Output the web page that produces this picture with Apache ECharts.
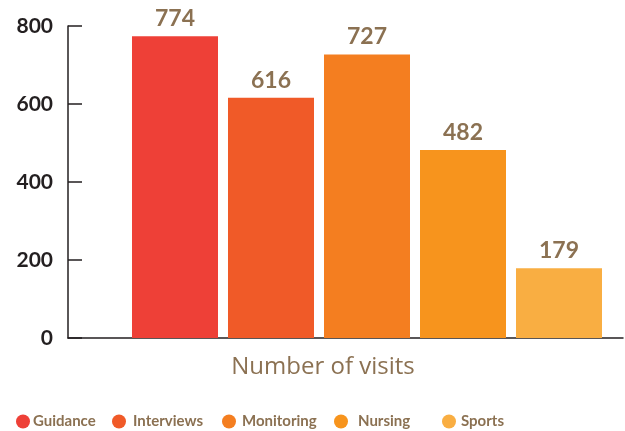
<!DOCTYPE html>
<html><head><meta charset="utf-8">
<script src="https://cdn.jsdelivr.net/npm/echarts@6/dist/echarts.min.js"></script>
<style>html,body{margin:0;padding:0;background:#fff}#c{width:625px;height:431px}</style>
</head><body><div id="c"></div>
<script>
const categories = ['Number of visits'];
const seriesNames = ['Guidance', 'Interviews', 'Monitoring', 'Nursing', 'Sports'];
const seriesValues = [774, 616, 727, 482, 179];
const colors = ['#EE4037', '#F05A28', '#F47E20', '#F7941D', '#F9AE42'];
const yTicks = [0, 200, 400, 600, 800];
const legendLeft = [16, 112, 222, 334, 442];
const legendTextGap = [3, 7, 6, 10, 5];

const brown = '#8B7152';
const font = 'Lato';
const chart = echarts.init(document.getElementById('c'));
chart.setOption({
  animation: false,
  textStyle: { fontFamily: font },
  grid: [
    { left: 127, right: 18, top: 26, height: 312 },
    { left: 68, right: 2, top: 26, height: 312 }
  ],
  legend: seriesNames.map((n, i) => ({
    data: [n], left: legendLeft[i], top: 414, icon: 'circle', itemWidth: 14, itemHeight: 14,
    itemGap: 0, selectedMode: false, padding: 0,
    textStyle: { color: brown, fontSize: 15, fontWeight: 'bold', fontFamily: font, padding: [0, 0, 0, legendTextGap[i] - 5] }
  })),
  xAxis: [
    { type: 'category', gridIndex: 0, data: categories, show: false },
    {
      type: 'category', gridIndex: 1, data: categories,
      axisLine: { lineStyle: { color: '#231F20', width: 1.5 } },
      axisTick: { show: false }, axisLabel: { show: false },
      name: categories[0], nameLocation: 'middle', nameGap: 17,
      nameTextStyle: { color: brown, fontSize: 24, fontFamily: 'Open Sans', padding: [0, 45, 0, 0] }
    }
  ],
  yAxis: [
    { type: 'value', gridIndex: 0, min: yTicks[0], max: yTicks[yTicks.length - 1], interval: 200, show: false, splitLine: { show: false } },
    {
      type: 'value', gridIndex: 1, min: yTicks[0], max: yTicks[yTicks.length - 1], interval: 200,
      splitLine: { show: false },
      axisLine: { show: true, lineStyle: { color: '#231F20', width: 1.5 } },
      axisTick: { show: true, inside: true, length: 14, lineStyle: { color: '#231F20', width: 1.5 } },
      axisLabel: { color: '#231F20', fontSize: 21, fontWeight: 'bold', margin: 15, fontFamily: font }
    }
  ],
  series: seriesNames.map((n, i) => ({
    name: n, type: 'bar', xAxisIndex: 0, yAxisIndex: 0, data: [seriesValues[i]],
    barWidth: 86, barGap: '11.63%',
    itemStyle: { color: colors[i] },
    label: { show: true, position: 'top', distance: 6, color: brown, fontSize: 23, fontWeight: 'bold', fontFamily: font }
  }))
});
</script></body></html>
